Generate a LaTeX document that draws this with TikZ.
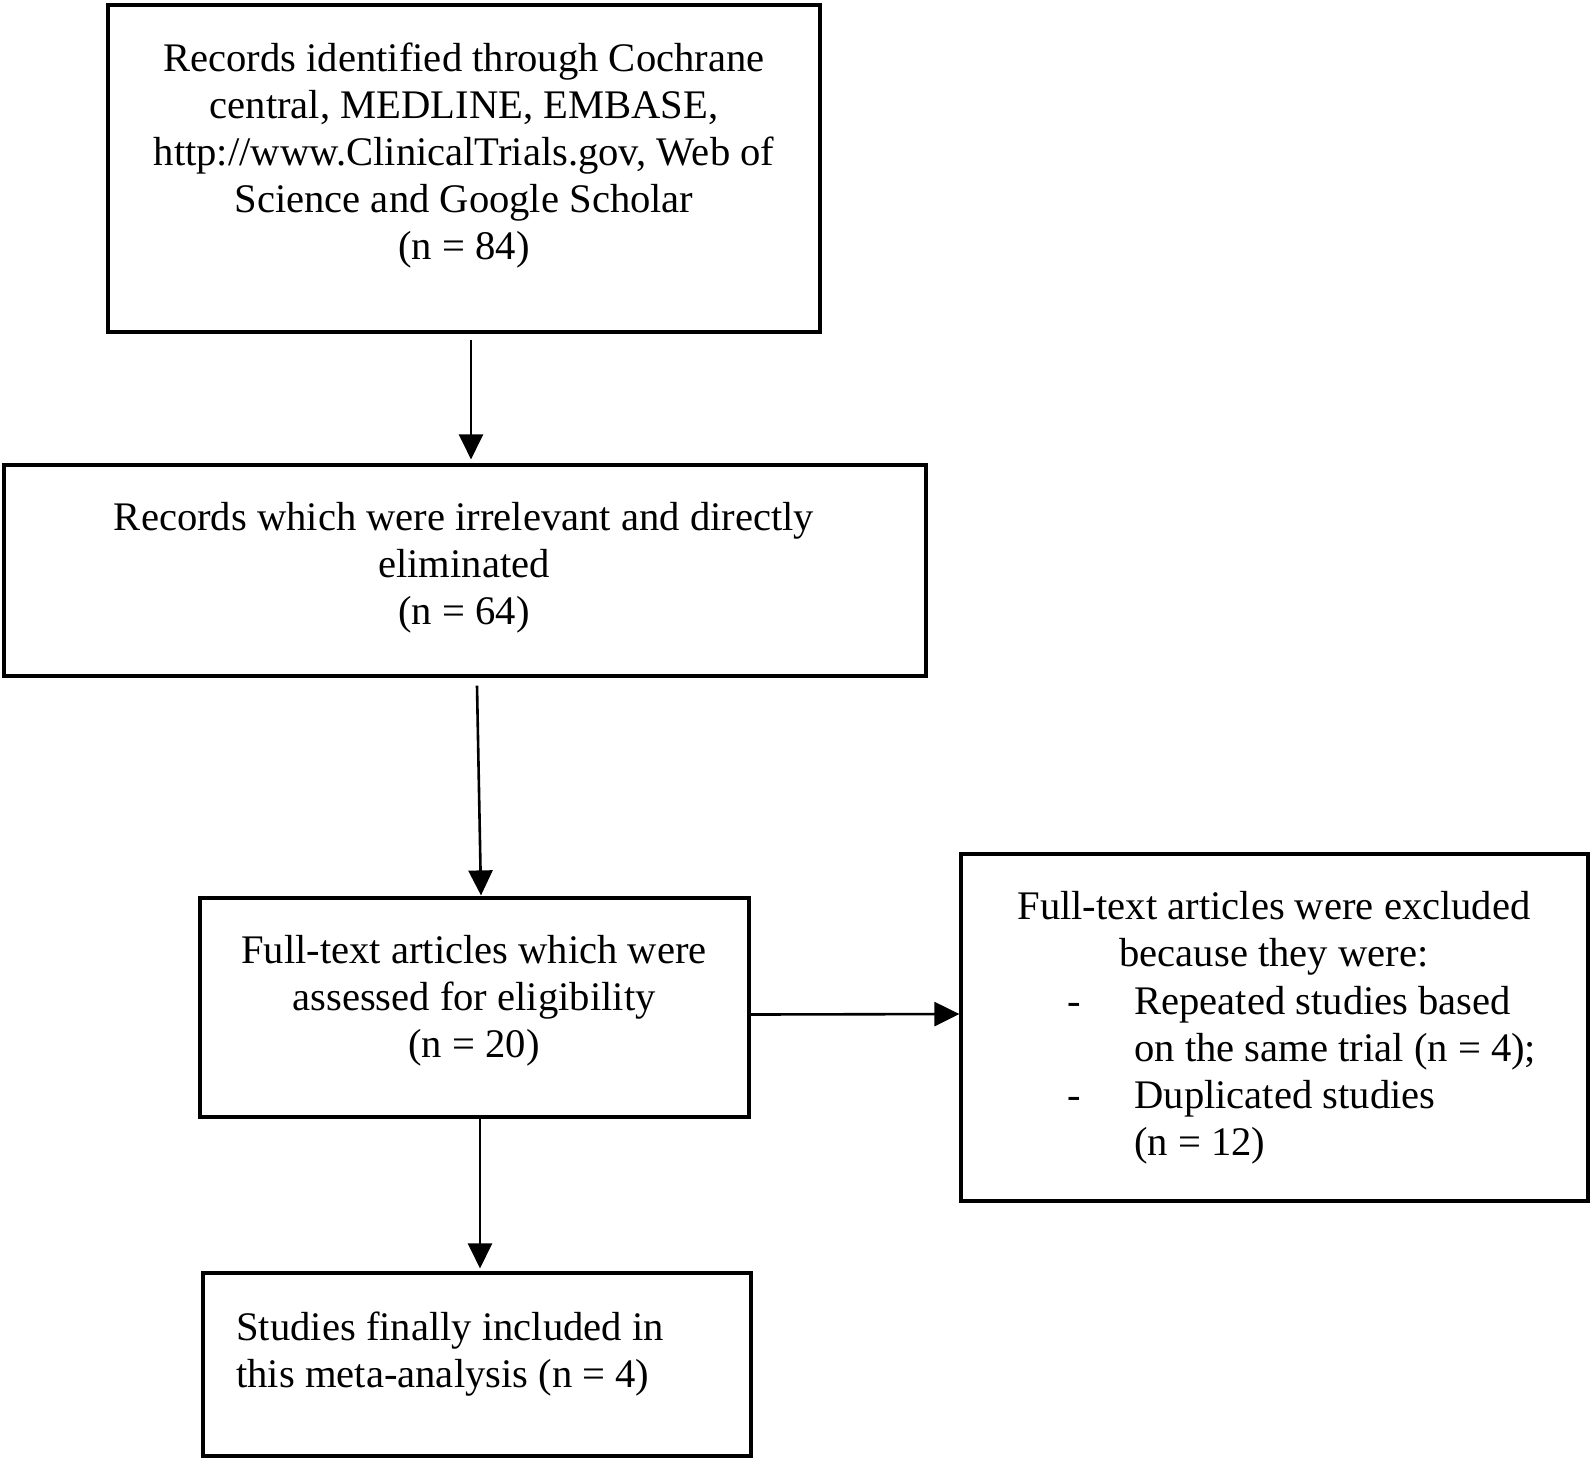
\documentclass[tikz,border=0pt]{standalone}
\usepackage{fontspec}
\setmainfont{Liberation Serif}
\usetikzlibrary{arrows.meta,calc}
\tikzset{
  box/.style={draw=black,line width=1.6pt,rectangle,inner sep=0pt,fill=white},
  txt/.style={inner sep=0pt,align=center,font=\fontsize{20.3pt}{23.5pt}\selectfont},
  arr/.style={draw=black,line width=1.3pt,-{Triangle[length=12.5pt,width=12pt]}}
}
\begin{document}
\begin{tikzpicture}[x=0.5pt,y=-0.5pt]
\useasboundingbox[fill=white] (0,0) rectangle (1594,1463);
% boxes
\node[box,minimum width=356pt,minimum height=163.5pt] (b1) at (464,168.5) {};
\node[box,minimum width=461pt,minimum height=105.5pt] (b2) at (465,570.5) {};
\node[box,minimum width=274.5pt,minimum height=109.5pt] (b3) at (474.5,1007.5) {};
\node[box,minimum width=274pt,minimum height=91.5pt] (b4) at (477,1364.5) {};
\node[box,minimum width=313.5pt,minimum height=173.5pt] (b5) at (1274.5,1027.5) {};
% texts
\node[txt] (t1) at (464,155.5) {Records identified through Cochrane\\central, MEDLINE, EMBASE,\\http://www.ClinicalTrials.gov, Web of\\Science and Google Scholar\\(n = 84)};
\node[txt] (t2) at (464,568) {Records which were irrelevant and directly\\eliminated\\(n = 64)};
\node[txt] (t3) at (474,1001) {Full-text articles which were\\assessed for eligibility\\(n = 20)};
\node[txt,align=left,anchor=west] (t4) at (236,1354) {Studies finally included in\\this meta-analysis (n = 4)};
\node[txt] (t5) at (1274,933.5) {Full-text articles were excluded\\because they were:};
\node[txt,align=left,anchor=west] (t6) at (1067,1075) {\makebox[33.5pt][l]{-}Repeated studies based\\\hspace*{33.5pt}on the same trial (n = 4);\\\makebox[33.5pt][l]{-}Duplicated studies\\\hspace*{33.5pt}(n = 12)};
% connectors
\draw[arr] ($(b1.south)+(7,6)$) -- ($(b2.north)+(6,-4)$);
\draw[arr] ($(b2.south)+(12,8)$) -- ($(b3.north)+(6.5,-1)$);
\draw[arr] ($(b3.south)+(5.5,0)$) -- ($(b4.north)+(3,-3)$);
\draw[arr] ($(b3.east)+(0,7)$) -- ($(b5.west)+(0,-13.5)$);
\end{tikzpicture}
\end{document}
